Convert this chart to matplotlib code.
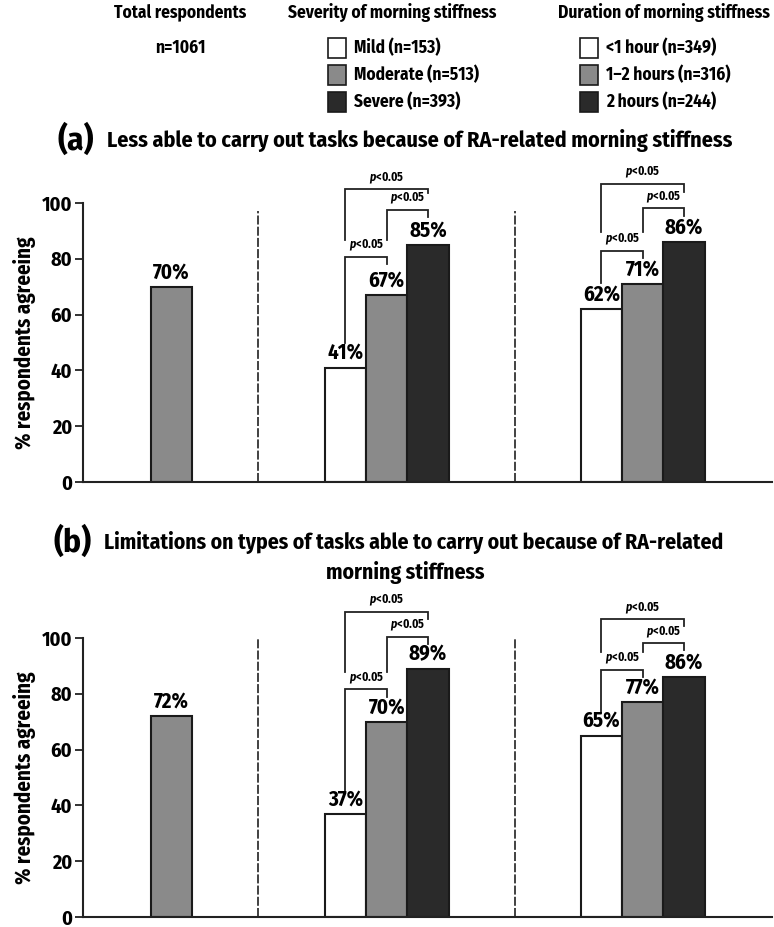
import matplotlib
matplotlib.use('Agg')
import matplotlib.pyplot as plt
from matplotlib.patches import Rectangle

FONT = 'Fira Sans Condensed'
plt.rcParams['font.family'] = [FONT, 'Liberation Sans', 'DejaVu Sans']
plt.rcParams['font.weight'] = 'bold'
plt.rcParams['mathtext.fontset'] = 'custom'
plt.rcParams['mathtext.it'] = FONT + ':bold:italic'
plt.rcParams['mathtext.rm'] = FONT + ':bold'

# data
total_n = 1061
severity_labels = ['Mild (n=153)', 'Moderate (n=513)', 'Severe (n=393)']
duration_labels = ['<1 hour (n=349)', '1\u20132 hours (n=316)', '2 hours (n=244)']
total_a = 70
severity_a = [41, 67, 85]
duration_a = [62, 71, 86]
total_b = 72
severity_b = [37, 70, 89]
duration_b = [65, 77, 86]
title_a = 'Less able to carry out tasks because of RA-related morning stiffness'
title_b = 'Limitations on types of tasks able to carry out because of RA-related\nmorning stiffness'

# bracket specs: (bar i, bar j, line height, left leg end, right leg end)
br_sev_a = [(0, 2, 104.9, 86.7, 103.5), (1, 2, 97.5, 86.7, 94.9), (0, 1, 80.8, 50, 78.1)]
br_dur_a = [(0, 2, 106.8, 89.7, 103.8), (1, 2, 98.1, 89.7, 95.3), (0, 1, 82.9, 71.2, 80.2)]
br_sev_b = [(0, 2, 109.4, 87.9, 106.7), (1, 2, 100.4, 87.9, 97.8), (0, 1, 81.6, 45, 78.9)]
br_dur_b = [(0, 2, 106.7, 95, 104.3), (1, 2, 98.1, 95, 95.7), (0, 1, 88.7, 73, 86.1)]

colors = ['white', '#8a8a8a', '#2a2a2a']
W, H = 774, 927

x_total = 2.14
x_sev = [6.35, 7.35, 8.35]
x_dur = [12.55, 13.55, 14.55]
x_sep = [4.24, 10.46]

fig = plt.figure(figsize=(W / 100, H / 100), dpi=100)


def fx(px):
    return px / W


def fy(py):
    return 1 - py / H


def bracket(ax, xs, spec):
    for i, j, y, yl, yr in spec:
        ax.plot([xs[i], xs[i], xs[j], xs[j]], [yl, y, y, yr], color='#222222', lw=1.3,
                clip_on=False, solid_joinstyle='miter')
        ax.text((xs[i] + xs[j]) / 2, y + 1.3, r'$\mathit{p}$<0.05', ha='center', va='bottom',
                fontsize=8.5, fontweight='bold')


def panel(ax, tot, sev, dur, br_sev, br_dur, sep_top):
    ax.bar([x_total], [tot], width=1, color=colors[1], edgecolor='#1a1a1a', lw=1.5)
    ax.bar(x_sev, sev, width=1, color=colors, edgecolor='#1a1a1a', lw=1.5)
    ax.bar(x_dur, dur, width=1, color=colors, edgecolor='#1a1a1a', lw=1.5)
    for x, v in zip([x_total] + x_sev + x_dur, [tot] + sev + dur):
        ax.text(x, v + 1.5, f'{v}%', ha='center', va='bottom', fontsize=15, fontweight='bold')
    for xs in x_sep:
        ax.plot([xs, xs], [0, sep_top], color='#333333', lw=1.3, ls=(0, (5, 1.2)))
    bracket(ax, x_sev, br_sev)
    bracket(ax, x_dur, br_dur)
    ax.set_xlim(0, 16.68)
    ax.set_ylim(0, 100)
    ax.set_yticks([0, 20, 40, 60, 80, 100])
    ax.set_xticks([])
    for s in ['top', 'right']:
        ax.spines[s].set_visible(False)
    for s in ['left', 'bottom']:
        ax.spines[s].set_linewidth(1.5)
        ax.spines[s].set_color('#222222')
    ax.tick_params(axis='y', length=6, width=1.3, labelsize=14.5, pad=2, color='#222222')
    for lab in ax.get_yticklabels():
        lab.set_fontweight('bold')
    ax.set_ylabel('% respondents agreeing', fontsize=15, fontweight='bold', labelpad=4)


ax_a = fig.add_axes([fx(83.3), fy(482), fx(772) - fx(83.3), (482 - 203) / H])
panel(ax_a, total_a, severity_a, duration_a, br_sev_a, br_dur_a, 97)
ax_b = fig.add_axes([fx(83.3), fy(917), fx(772) - fx(83.3), (917 - 638) / H])
panel(ax_b, total_b, severity_b, duration_b, br_sev_b, br_dur_b, 101)

# titles
fig.text(fx(57), fy(140), '(a)', fontsize=24, fontweight='bold', va='center', ha='left')
fig.text(fx(107), fy(140), title_a, fontsize=15.9, fontweight='bold', va='center', ha='left')
fig.text(fx(54), fy(542), '(b)', fontsize=24, fontweight='bold', va='center', ha='left')
line1, line2 = title_b.split('\n')
fig.text(fx(104), fy(542), line1, fontsize=15.6, fontweight='bold', va='center', ha='left')
fig.text(fx(405), fy(572), line2, fontsize=15.6, fontweight='bold', va='center', ha='center')

# header / legend
HFS = 12.5
fig.text(fx(180), fy(13), 'Total respondents', fontsize=HFS, fontweight='bold', ha='center', va='center')
fig.text(fx(180), fy(48), f'n={total_n}', fontsize=HFS, fontweight='bold', ha='center', va='center')
fig.text(fx(392), fy(13), 'Severity of morning stiffness', fontsize=HFS, fontweight='bold',
         ha='center', va='center')
fig.text(fx(664), fy(13), 'Duration of morning stiffness', fontsize=HFS, fontweight='bold',
         ha='center', va='center')
rows = [48, 75, 102]
for x0, labels in [(328, severity_labels), (580, duration_labels)]:
    for yrow, lab, c in zip(rows, labels, colors):
        fig.add_artist(Rectangle((fx(x0), fy(yrow + 9.5)), 18 / W, 19 / H, facecolor=c,
                                 edgecolor='#1a1a1a', lw=1.2, transform=fig.transFigure))
        fig.text(fx(x0 + 26), fy(yrow), lab, fontsize=HFS, fontweight='bold', ha='left', va='center')

fig.savefig('out.png', dpi=100)
